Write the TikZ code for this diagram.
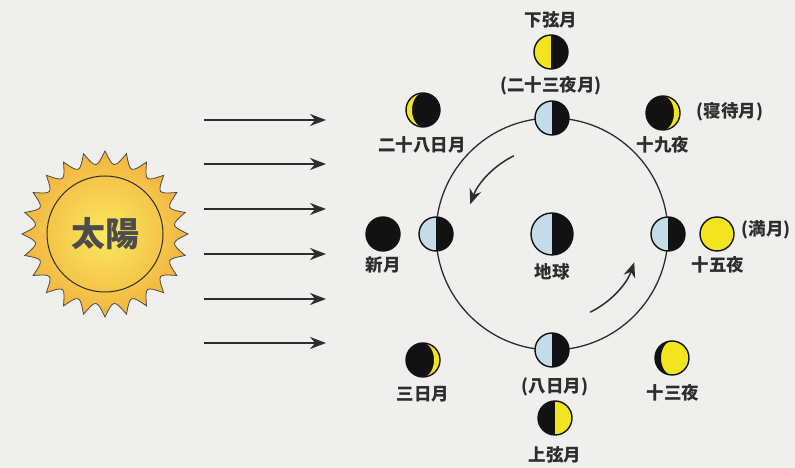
\documentclass[tikz,border=0pt]{standalone}
\usepackage{fontspec}
\newfontfamily\jp{Noto Sans CJK JP}
\usetikzlibrary{arrows.meta}

\definecolor{paper}{RGB}{239,239,237}
\definecolor{lit}{RGB}{243,228,32}
\definecolor{moondark}{RGB}{18,18,18}
\definecolor{sky}{RGB}{196,220,232}
\definecolor{sunin}{RGB}{250,234,95}
\definecolor{sunout}{RGB}{243,180,64}
\definecolor{ink}{RGB}{45,45,45}

\tikzset{
  moon/.style={circle, draw=moondark, line width=1.4pt, minimum size=34pt, inner sep=0pt, outer sep=0pt},
  halfmoon/.style 2 args={moon, path picture={
      \fill[#1] (path picture bounding box.south west) rectangle (path picture bounding box.north);
      \fill[#2] (path picture bounding box.south) rectangle (path picture bounding box.north east);}},
  rcrescent/.style n args={3}{moon, fill=#1, path picture={
      \fill[#2, shift={(path picture bounding box.center)}] (0,17pt)
        arc[start angle=90, end angle=-90, radius=17pt]
        arc[start angle=-90, end angle=90, x radius=#3, y radius=17pt] -- cycle;}},
  lcrescent/.style n args={3}{moon, fill=#1, path picture={
      \fill[#2, shift={(path picture bounding box.center)}] (0,17pt)
        arc[start angle=90, end angle=270, radius=17pt]
        arc[start angle=270, end angle=90, x radius=#3, y radius=17pt] -- cycle;}},
  lbl/.style={font=\jp\fontsize{17.5}{17.5}\selectfont\bfseries, text=ink, inner sep=1pt},
  ray/.style={draw=ink, line width=2pt, -{Stealth[length=16pt, width=12pt]}},
  turn/.style={draw=ink, line width=1.5pt, -{Stealth[length=15pt, width=12pt]}}
}

\begin{document}
\begin{tikzpicture}[x=1pt, y=1pt]
  \fill[paper] (0,0) rectangle (795,468);
  \useasboundingbox (0,0) rectangle (795,468);

  % sun
  \shadedraw[draw=ink!85, line width=0.8pt, inner color=sunin, outer color=sunout]
    (105+83,234) \foreach \i in {1,...,24} {
      .. controls ({105+66*cos(15*\i-7.5)},{234+66*sin(15*\i-7.5)}) .. ({105+83*cos(15*\i)},{234+83*sin(15*\i)})
    } -- cycle;
  \node[circle, draw=ink, line width=1pt, minimum size=116pt, text=ink!85,
        font=\jp\fontsize{34}{34}\selectfont\bfseries] (sun) at (105,234) {太陽};

  % sunlight
  \foreach \y [count=\i] in {348,304,259,214,169,125} {
    \coordinate (ray\i) at (204,\y);
    \coordinate (hit\i) at (326,\y);
    \draw[ray] (ray\i) -- (hit\i);
  }

  % orbit and earth
  \node[circle, draw=ink, line width=1.3pt, minimum size=232pt, outer sep=0pt] (orbit) at (552,234) {};
  \node[halfmoon={sky}{moondark}, minimum size=42pt] (earth) at (orbit.center) {};
  \node[lbl] (earth-t) at (552,196) {地球};

  \draw[turn] (orbit.center) ++(116:87) arc[start angle=116, end angle=160, radius=87];
  \draw[turn] (orbit.center) ++(-64:87) arc[start angle=-64, end angle=-19, radius=87];

  % moon on the orbit
  \node[halfmoon={sky}{moondark}] (o-top) at (orbit.north) {};
  \node[halfmoon={sky}{moondark}] (o-bot) at (orbit.south) {};
  \node[halfmoon={sky}{moondark}] (o-left) at (orbit.west) {};
  \node[halfmoon={sky}{moondark}] (o-right) at (orbit.east) {};

  % moon as seen from the earth
  \node[halfmoon={lit}{moondark}] (kagen) at (551,416) {};
  \node[lbl] (kagen-t) at (551,448) {下弦月};
  \node[lbl] (kagen-s) at (551,382) {(二十三夜月)};

  \node[lcrescent={moondark}{lit}{11pt}] (d28) at (423,358) {};
  \node[lbl] (d28-t) at (422,323) {二十八日月};

  \node[rcrescent={moondark}{lit}{11pt}] (d19) at (663,355) {};
  \node[lbl] (d19-t) at (663,323) {十九夜};
  \node[lbl] (d19-s) at (730,356) {(寝待月)};

  \node[moon, fill=moondark] (shin) at (383,234) {};
  \node[lbl] (shin-t) at (383,203) {新月};

  \node[moon, fill=lit] (mangetsu) at (717,234) {};
  \node[lbl] (mangetsu-t) at (718,203) {十五夜};
  \node[lbl] (mangetsu-s) at (766,238) {(満月)};

  \node[rcrescent={moondark}{lit}{11pt}] (d3) at (423,108) {};
  \node[lbl] (d3-t) at (423,74) {三日月};

  \node[halfmoon={moondark}{lit}] (jogen) at (555,50) {};
  \node[lbl] (jogen-s) at (555,81) {(八日月)};
  \node[lbl] (jogen-t) at (555,13) {上弦月};

  \node[lcrescent={lit}{moondark}{11pt}] (d13) at (672,110) {};
  \node[lbl] (d13-t) at (673,75) {十三夜};
\end{tikzpicture}
\end{document}
